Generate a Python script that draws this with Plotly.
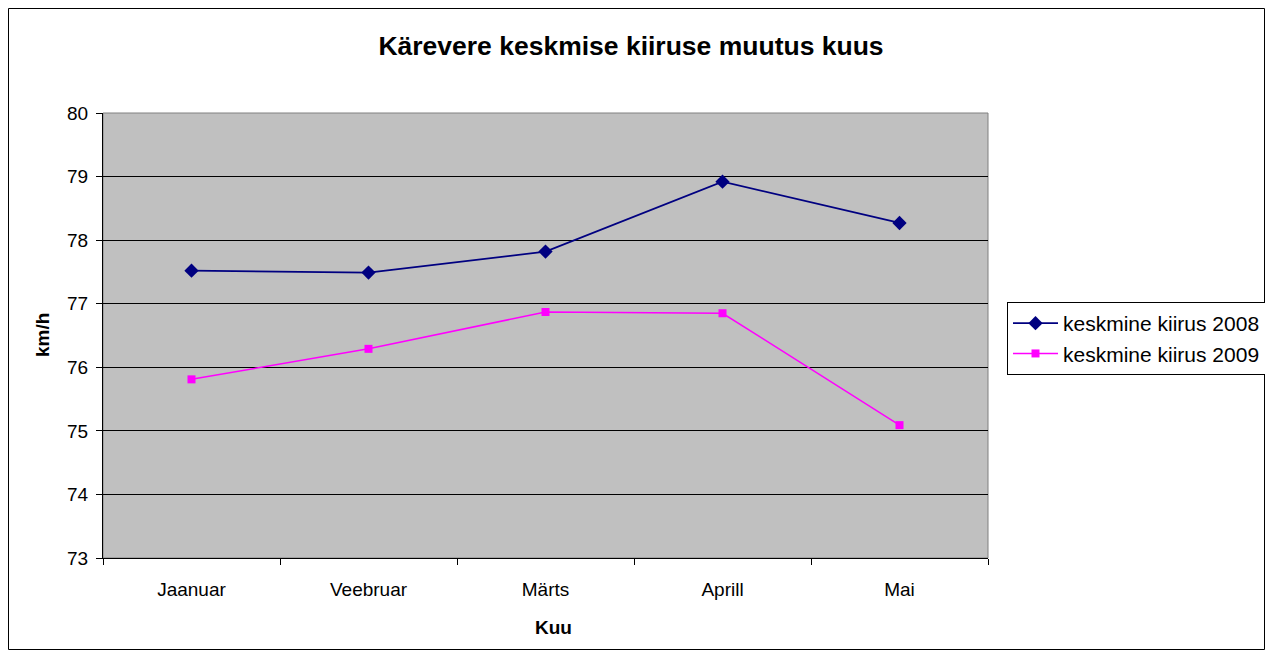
import plotly.graph_objects as go

months = ["Jaanuar", "Veebruar", "Märts", "Aprill", "Mai"]
speed_2008 = [77.52, 77.49, 77.82, 78.92, 78.27]
speed_2009 = [75.81, 76.29, 76.87, 76.85, 75.09]
series_names = ["keskmine kiirus 2008", "keskmine kiirus 2009"]
y_ticks = [73, 74, 75, 76, 77, 78, 79, 80]

OFF = 8  # page body margin
W, H = 1257, 642
# plot area in page pixels
L, R, T, B = 103 - OFF, 988 - OFF, 113 - OFF, 558 - OFF

FONT = "Liberation Sans, Arial, sans-serif"

fig = go.Figure()
fig.add_trace(go.Scatter(
    x=months, y=speed_2008, name=series_names[0], mode="lines+markers",
    line=dict(color="#000080", width=1.8),
    marker=dict(symbol="diamond", size=11, color="#000080"),
))
fig.add_trace(go.Scatter(
    x=months, y=speed_2009, name=series_names[1], mode="lines+markers",
    line=dict(color="#FF00FF", width=1.5),
    marker=dict(symbol="square", size=8, color="#FF00FF"),
))


def px_x(p):
    return (p - OFF - L) / (R - L)


def px_y(p):
    return (B - (p - OFF)) / (B - T)


fig.update_layout(
    width=W, height=H,
    margin=dict(l=L, r=W - R, t=T, b=H - B, autoexpand=False),
    paper_bgcolor="white",
    plot_bgcolor="#C0C0C0",
    font=dict(family=FONT, size=19, color="black"),
    title=dict(text="<b>Kärevere keskmise kiiruse muutus kuus</b>",
               x=(631 - OFF) / W, xref="container", xanchor="center",
               y=1 - (46 - OFF) / H, yref="container", yanchor="middle",
               font=dict(size=26.5, color="black", family=FONT)),
    showlegend=True,
    legend=dict(x=px_x(1007), y=px_y(302), xanchor="left", yanchor="top",
                bordercolor="black", borderwidth=1, bgcolor="white",
                font=dict(size=21, family=FONT), tracegroupgap=0,
                itemwidth=45),
    xaxis=dict(
        range=[-0.5, 4.5],
        tickson="boundaries", ticks="outside", ticklen=6, tickcolor="black",
        showline=True, linecolor="black", linewidth=1,
        showgrid=False, zeroline=False,
        tickfont=dict(size=19), ticklabelstandoff=14,
    ),
    yaxis=dict(
        range=[73, 80], tickvals=y_ticks, ticks="outside", ticklen=6,
        tickcolor="black", showline=True, linecolor="black", linewidth=1,
        showgrid=True, gridcolor="black", gridwidth=1, zeroline=False,
        tickfont=dict(size=19), ticklabelstandoff=4,
    ),
    annotations=[
        dict(text="<b>Kuu</b>", xref="paper", yref="paper",
             x=(553 - OFF - L) / (R - L), y=px_y(627),
             xanchor="center", yanchor="middle", showarrow=False,
             font=dict(size=19, family=FONT)),
        dict(text="<b>km/h</b>", xref="paper", yref="paper",
             x=px_x(42), y=px_y(335), textangle=-90,
             xanchor="center", yanchor="middle", showarrow=False,
             font=dict(size=19, family=FONT)),
    ],
    shapes=[
        dict(type="rect", xref="paper", yref="paper",
             x0=px_x(8.5), x1=px_x(1264.5), y0=px_y(649.5), y1=px_y(8.5),
             line=dict(color="black", width=1), fillcolor="rgba(0,0,0,0)",
             layer="below"),
        dict(type="rect", xref="paper", yref="paper",
             x0=0, x1=1, y0=0, y1=1,
             line=dict(color="#808080", width=1), fillcolor="rgba(0,0,0,0)",
             layer="below"),
    ],
)

fig.write_html("out.html")
